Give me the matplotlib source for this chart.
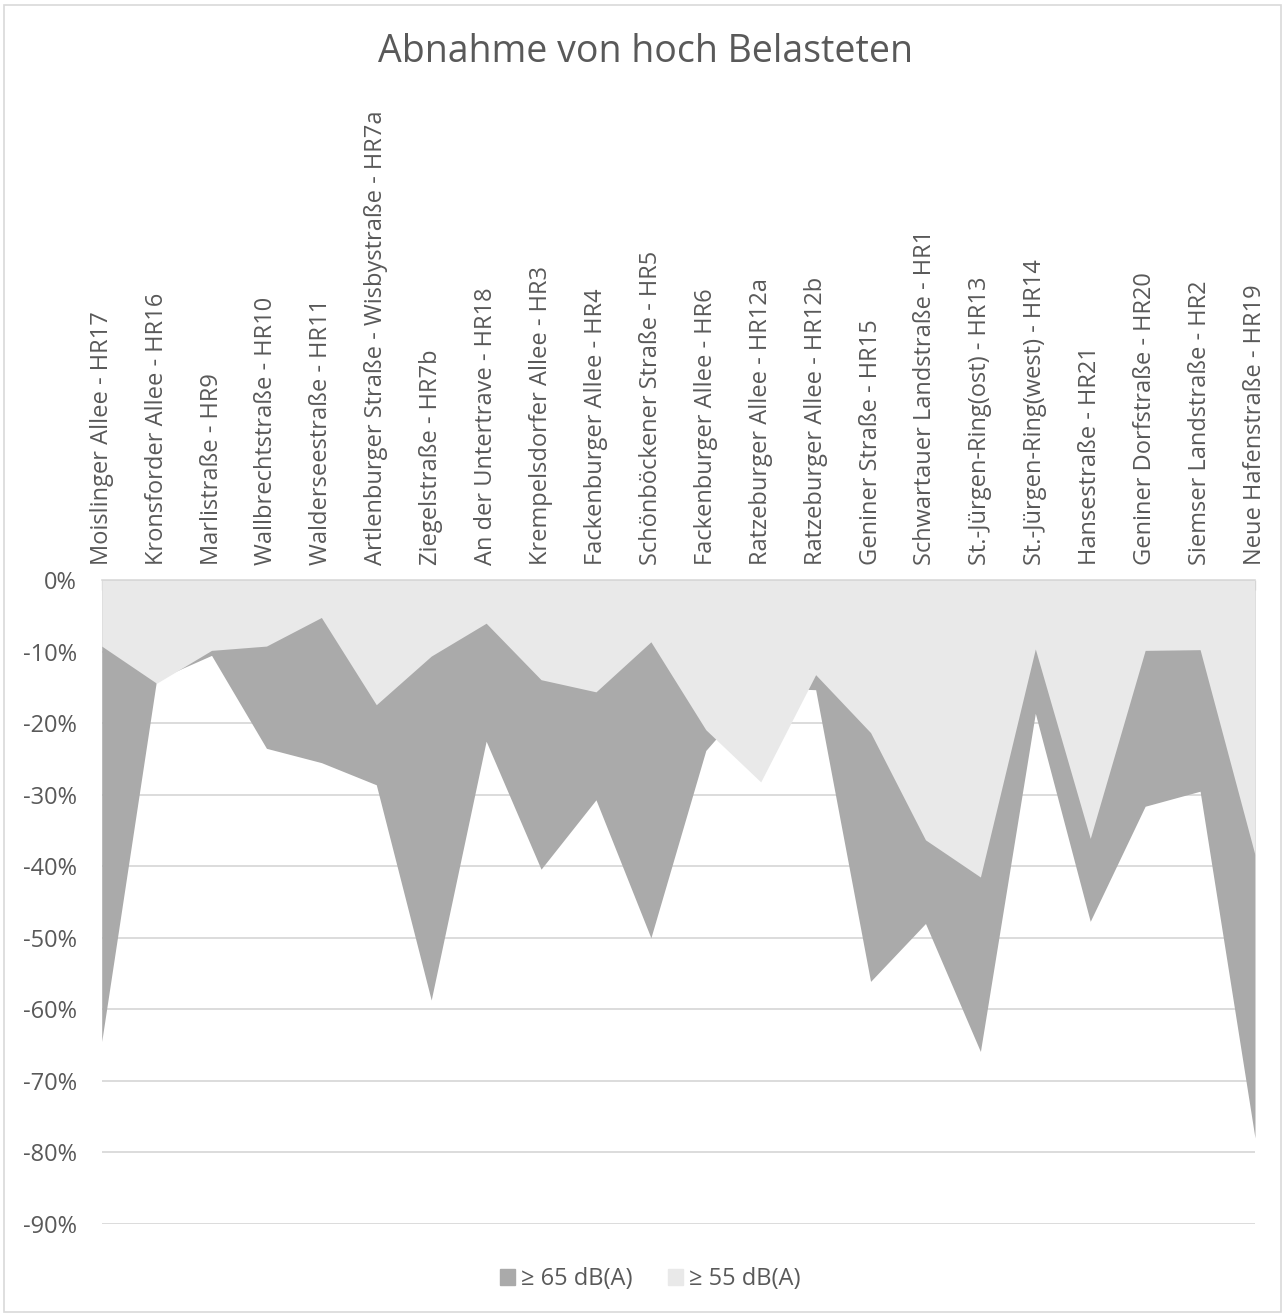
import matplotlib
matplotlib.use("Agg")
import matplotlib.pyplot as plt
from matplotlib.patches import Rectangle
from matplotlib.ticker import FuncFormatter
import numpy as np

plt.rcParams['font.family'] = ['Open Sans', 'DejaVu Sans']

categories = [
    "Moislinger Allee - HR17",
    "Kronsforder Allee - HR16",
    "Marlistraße - HR9",
    "Wallbrechtstraße - HR10",
    "Walderseestraße - HR11",
    "Artlenburger Straße - Wisbystraße - HR7a",
    "Ziegelstraße - HR7b",
    "An der Untertrave - HR18",
    "Krempelsdorfer Allee - HR3",
    "Fackenburger Allee - HR4",
    "Schönböckener Straße - HR5",
    "Fackenburger Allee - HR6",
    "Ratzeburger Allee - HR12a",
    "Ratzeburger Allee - HR12b",
    "Geniner Straße - HR15",
    "Schwartauer Landstraße - HR1",
    "St.-Jürgen-Ring(ost) - HR13",
    "St.-Jürgen-Ring(west) - HR14",
    "Hansestraße - HR21",
    "Geniner Dorfstraße - HR20",
    "Siemser Landstraße - HR2",
    "Neue Hafenstraße - HR19",
]

# percent change
v65 = [-64.5, -13.9, -10.5, -23.5, -25.5, -28.6, -58.7, -22.5, -40.4, -30.7, -50.0,
       -23.8, -15.0, -15.3, -56.1, -48.0, -65.9, -18.6, -47.7, -31.6, -29.5, -78.0]
v55 = [-9.2, -14.4, -9.8, -9.2, -5.2, -17.4, -10.6, -6.0, -13.9, -15.6, -8.6,
       -20.9, -28.2, -13.2, -21.3, -36.3, -41.5, -9.6, -36.1, -9.8, -9.7, -38.4]

series_labels = ["≥ 65 dB(A)", "≥ 55 dB(A)"]
title = "Abnahme von hoch Belasteten"

TEXT = "#595959"
DARK = "#aaaaaa"
LIGHT = "#e9e9e9"
GRID = "#d9d9d9"

W, H = 1285, 1315
fig = plt.figure(figsize=(W / 100, H / 100), dpi=100)
fig.patch.set_facecolor("white")

# chart border
fig.patches.append(Rectangle((4 / W, 3 / H), (W - 8) / W, (H - 8) / H,
                             transform=fig.transFigure, fill=False,
                             edgecolor=GRID, linewidth=1.2))

left, right, top, bottom = 101.7, 1255, 580.3, 1223.8
ax = fig.add_axes([left / W, (H - bottom) / H, (right - left) / W, (bottom - top) / H])

x = np.arange(len(categories))
y65 = np.array(v65) / 100.0
y55 = np.array(v55) / 100.0

ax.fill_between(x, 0, y65, color=DARK, linewidth=0, zorder=2, label=series_labels[0])
ax.fill_between(x, 0, y55, color=LIGHT, linewidth=0, zorder=3, label=series_labels[1])

ax.set_xlim(0, len(categories) - 1)
ax.set_ylim(-0.9, 0)

ax.set_yticks(np.arange(-0.9, 0.001, 0.1))
ax.yaxis.set_major_formatter(FuncFormatter(lambda v, p: f"{round(v * 100):d}%"))
ax.grid(axis="y", color=GRID, linewidth=1.3, zorder=0)
ax.set_axisbelow(True)

ax.xaxis.tick_top()
ax.set_xticks(x)
ax.set_xticklabels(categories, rotation=90, fontsize=17, color=TEXT)
ax.tick_params(axis="x", direction="in", length=7, color=GRID, width=1, pad=11)
ax.tick_params(axis="y", length=0, pad=18, labelsize=17, labelcolor=TEXT)

for s in ["left", "right", "bottom"]:
    ax.spines[s].set_visible(False)
ax.spines["top"].set_color(GRID)
ax.spines["top"].set_linewidth(1.2)
ax.spines["top"].set_zorder(4)

fig.text(645 / W, 1 - 52 / H, title, ha="center", va="center", fontsize=27, color=TEXT)

handles = [Rectangle((0, 0), 1, 1, color=DARK), Rectangle((0, 0), 1, 1, color=LIGHT)]
fig.legend(handles, series_labels, loc="center", bbox_to_anchor=(650 / W, 1 - 1279 / H),
           ncol=2, frameon=False, fontsize=17, labelcolor=TEXT,
           handlelength=0.65, handleheight=0.65, handletextpad=0.25, columnspacing=1.5)

fig.savefig("out.png", dpi=100, facecolor="white")
